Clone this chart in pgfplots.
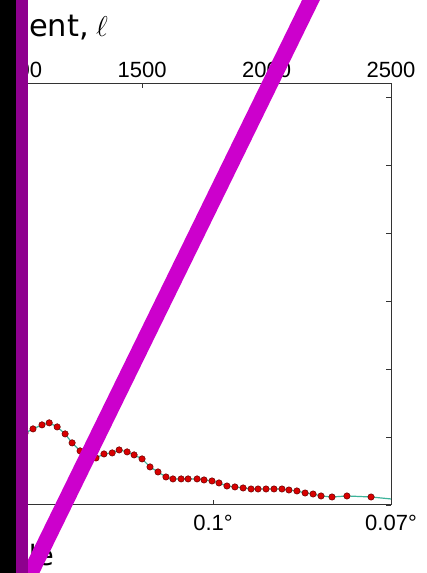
\documentclass[border=0pt]{standalone}
\usepackage{fontspec}
\setmainfont{Liberation Sans}
\newfontfamily\labfont{DejaVu Sans}
\usepackage{pgfplots}
\pgfplotsset{compat=1.18}
\definecolor{magline}{HTML}{CC00CC}
\definecolor{purpstrip}{HTML}{8E008E}
\definecolor{tealline}{HTML}{3CB39A}
\definecolor{reddot}{HTML}{D80000}
\definecolor{framec}{HTML}{333333}
\begin{document}
\begin{tikzpicture}[x=1pt,y=1pt]
\useasboundingbox (0,0) rectangle (427,573);
\clip (0,0) rectangle (427,573);
\fill[white] (0,0) rectangle (427,573);
\begin{axis}[at={(391pt,489pt)}, anchor=north east, scale only axis,
  width=473pt, height=421pt,
  xmin=600, xmax=2500, ymin=0, ymax=6200,
  ytick={0,1000,...,6000}, yticklabels={}, ytick pos=right,
  xtick={1785,2500}, xticklabels={0.1°,0.07°}, xtick pos=left,
  major tick length=5pt,
  axis line style={framec, line width=1pt},
  tick style={framec, line width=0.8pt},
  ticklabel style={font=\fontsize{22}{26}\selectfont},
  xticklabel style={yshift=-7pt},
  clip=true]
\addplot[tealline, line width=1.2pt] coordinates {
(1030,1060)(1062,1121)(1098,1180)(1127,1210)(1159,1150)(1191,1047)(1219,915)(1251,797)(1283,738)(1315,693)(1347,752)(1380,767)(1408,811)(1440,782)(1468,738)(1500,679)(1532,561)(1564,487)(1596,413)(1624,384)(1657,384)(1685,384)(1721,384)(1749,369)(1781,354)(1809,325)(1841,280)(1873,266)(1906,251)(1938,236)(1966,236)(1998,236)(2030,236)(2062,236)(2090,221)(2122,207)(2155,177)(2187,162)(2219,133)(2263,118)(2323,133)(2420,118)(2500,89)};
\addplot[only marks, mark=*, mark size=3.2pt, mark options={fill=reddot, draw=black!60!red, line width=0.5pt}] coordinates {
(1030,1060)(1062,1121)(1098,1180)(1127,1210)(1159,1150)(1191,1047)(1219,915)(1251,797)(1283,738)(1315,693)(1347,752)(1380,767)(1408,811)(1440,782)(1468,738)(1500,679)(1532,561)(1564,487)(1596,413)(1624,384)(1657,384)(1685,384)(1721,384)(1749,369)(1781,354)(1809,325)(1841,280)(1873,266)(1906,251)(1938,236)(1966,236)(1998,236)(2030,236)(2062,236)(2090,221)(2122,207)(2155,177)(2187,162)(2219,133)(2263,118)(2323,133)(2420,118)};
\end{axis}
\begin{axis}[at={(391pt,489pt)}, anchor=north east, scale only axis,
  width=473pt, height=421pt,
  xmin=600, xmax=2500, ymin=0, ymax=6200,
  axis x line*=top, axis y line=none,
  xtick={1000,1500,2000,2500}, xticklabels={1000,1500,2000,2500},
  major tick length=4pt,
  axis line style={framec, line width=1pt},
  tick style={framec, line width=0.8pt},
  ticklabel style={font=\fontsize{22}{26}\selectfont},
  xticklabel style={yshift=3pt}]
\end{axis}
\node[anchor=base east, inner sep=0pt, font=\labfont\fontsize{30.5}{34}\selectfont] at (89,536) {Multipole moment,};
\node[anchor=base west, inner sep=0pt, font=\fontsize{30}{34}\selectfont] at (96,536) {\scalebox{1.15}{$\ell$}};
\node[anchor=base east, inner sep=0pt, font=\labfont\fontsize{28}{32}\selectfont] at (54,7) {Angular scale};
\draw[magline, line width=16pt] (320.8,593) -- (17.3,-27);
\fill[black] (0,0) rectangle (16,573);
\fill[purpstrip] (16,0) rectangle (28,573);
\end{tikzpicture}
\end{document}
